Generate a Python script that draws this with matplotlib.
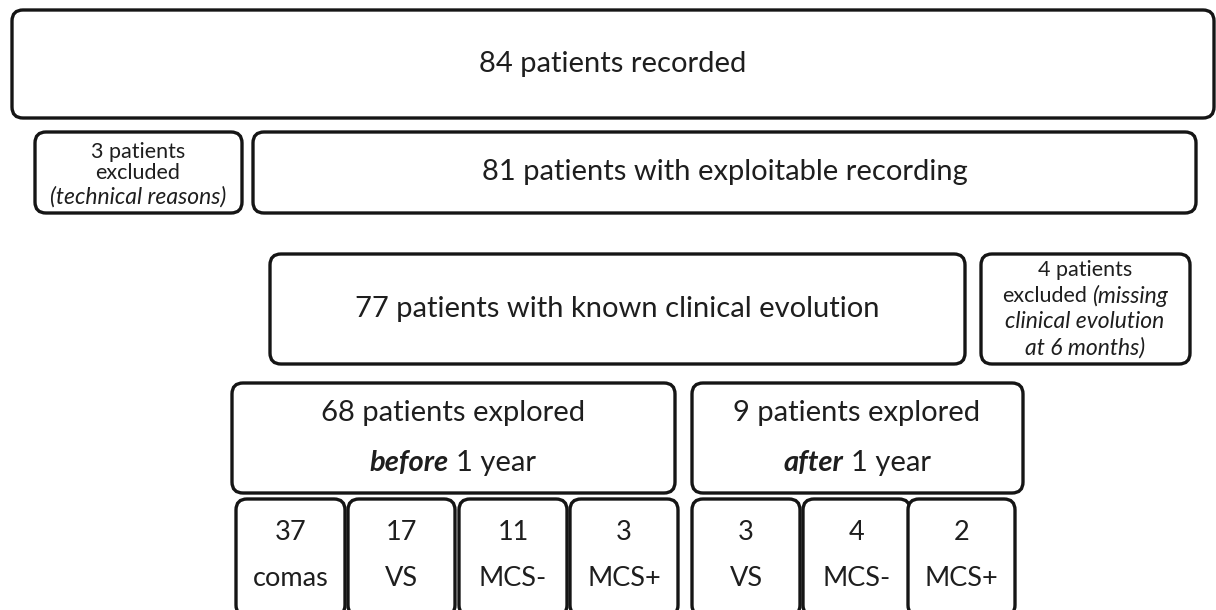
import matplotlib
matplotlib.use("Agg")
import matplotlib.pyplot as plt
from matplotlib.patches import FancyBboxPatch

plt.rcParams['font.family'] = ['Lato', 'DejaVu Sans']

# --- chart texts ---
recorded = "84 patients recorded"
exploitable = "81 patients with exploitable recording"
excluded_tech = ["3 patients", "excluded", "(technical reasons)"]
known_evolution = "77 patients with known clinical evolution"
excluded_missing_head = ["4 patients", "excluded"]
excluded_missing_reason = ["(missing", "clinical evolution", "at 6 months)"]
before_title = ["68 patients explored", "before", "1 year"]
after_title = ["9 patients explored", "after", "1 year"]
before_counts = ["37", "17", "11", "3"]
before_states = ["comas", "VS", "MCS-", "MCS+"]
after_counts = ["3", "4", "2"]
after_states = ["VS", "MCS-", "MCS+"]

TXT = "#1e1e1e"
EDGE = "#151515"
BIG = 21
MID = 19.5
SMALL = 15.5
SMALL_IT = 16.5

fig = plt.figure(figsize=(12.16, 6.10), dpi=100)
ax = fig.add_axes([0, 0, 1, 1])
ax.set_xlim(0, 1216)
ax.set_ylim(610, 0)
ax.axis("off")


def box(x0, y0, x1, y1, r=11, lw=2.4):
    p = FancyBboxPatch((x0, y0), x1 - x0, y1 - y0,
                       boxstyle="round,pad=0,rounding_size=%d" % r,
                       fc="white", ec=EDGE, lw=lw)
    ax.add_patch(p)


def label(x, y, s, size, **kw):
    ax.text(x, y, s, fontsize=size, ha="center", va="center", color=TXT, **kw)


def rich(x, y, parts):
    # parts: list of (string, size, style, weight); placed on one centered line
    texts = []
    for s, size, style, weight in parts:
        t = ax.text(0, y, s, fontsize=size, ha="left", va="center", color=TXT,
                    style=style, weight=weight)
        texts.append(t)
    fig.canvas.draw()
    r = fig.canvas.get_renderer()
    gap = parts[0][1] * 100 / 72 * 0.25
    widths = [t.get_window_extent(r).width for t in texts]
    total = sum(widths) + gap * (len(widths) - 1)
    cur = x - total / 2
    for t, w in zip(texts, widths):
        t.set_x(cur)
        cur += w + gap


# top level
box(12, 10, 1214, 118)
label(613, 64, recorded, BIG)

# second level
box(35, 132, 242, 213)
label(138, 152, excluded_tech[0], SMALL)
label(138, 173, excluded_tech[1], SMALL)
label(138, 197, excluded_tech[2], SMALL_IT, style="italic")

box(253, 132, 1196, 213)
label(725, 172, exploitable, BIG)

# third level
box(270, 254, 965, 364)
label(617, 309, known_evolution, BIG)

box(981, 254, 1190, 364)
label(1085, 270, excluded_missing_head[0], SMALL)
rich(1085, 296, [(excluded_missing_head[1], SMALL, "normal", "normal"),
                 (excluded_missing_reason[0], SMALL_IT, "italic", "normal")])
label(1085, 322, excluded_missing_reason[1], SMALL_IT, style="italic")
label(1085, 348, excluded_missing_reason[2], SMALL_IT, style="italic")

# fourth level
box(232, 383, 675, 493)
label(453, 413, before_title[0], BIG)
rich(453, 463, [(before_title[1], BIG, "italic", "bold"),
                (before_title[2], BIG, "normal", "normal")])

box(692, 383, 1023, 493)
label(857, 413, after_title[0], BIG)
rich(857, 463, [(after_title[1], BIG, "italic", "bold"),
                (after_title[2], BIG, "normal", "normal")])

# states
before_x = [(236, 345), (348, 455), (459, 567), (570, 678)]
for (x0, x1), n, s in zip(before_x, before_counts, before_states):
    box(x0, 499, x1, 616)
    label((x0 + x1) / 2, 533, n, MID)
    label((x0 + x1) / 2, 578, s, MID)

after_x = [(692, 800), (803, 910), (908, 1015)]
for (x0, x1), n, s in zip(after_x, after_counts, after_states):
    box(x0, 499, x1, 616)
    label((x0 + x1) / 2, 533, n, MID)
    label((x0 + x1) / 2, 578, s, MID)

fig.savefig("out.png", dpi=100)
